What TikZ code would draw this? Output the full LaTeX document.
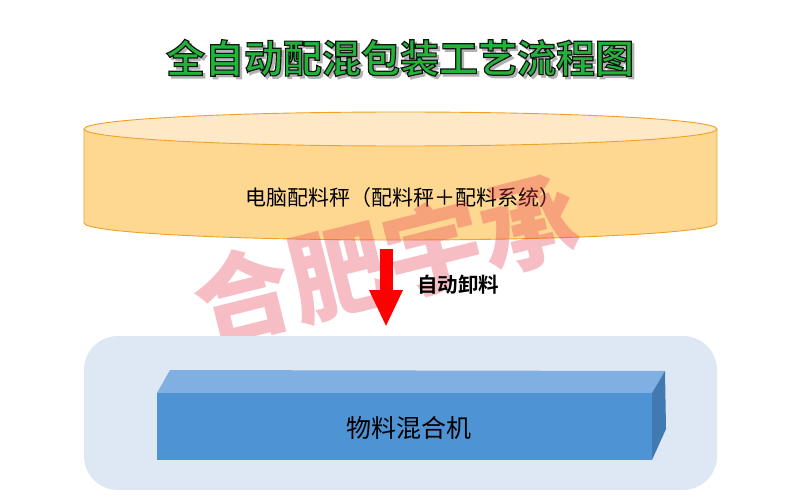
\documentclass[tikz,border=0pt]{standalone}
\usepackage{fontspec}
\newfontfamily\cjk{Noto Sans CJK SC}[BoldFont={Noto Sans CJK SC Bold}]
\newfontfamily\cjkblack{Noto Sans CJK SC Black}
\newfontfamily\cjkoutline{Noto Sans CJK SC Black}[FakeBold=3]
\usetikzlibrary{arrows.meta}
\definecolor{cylside}{RGB}{254,216,145}
\definecolor{cyltop}{RGB}{253,233,198}
\definecolor{cyledge}{RGB}{240,160,40}
\definecolor{panel}{RGB}{222,232,245}
\definecolor{boxfront}{RGB}{78,147,211}
\definecolor{boxtop}{RGB}{128,176,226}
\definecolor{boxright}{RGB}{65,122,176}
\definecolor{titlegreen}{RGB}{34,180,58}
\definecolor{wmark}{RGB}{232,56,79}
\newcommand\greenoutlined[1]{\special{pdf:bcolor [0.133 0.706 0.227] [0.08 0.08 0.08]}#1\special{pdf:ecolor}}
\begin{document}
\begin{tikzpicture}[x=1pt,y=-1pt,
  titletext/.style={font=\cjkoutline\bfseries\fontsize{39}{44}\selectfont, inner sep=0pt},
  lbl/.style={font=\cjk\fontsize{21}{24}\selectfont, inner sep=0pt, text=black},
  boldlbl/.style={font=\cjk\bfseries\fontsize{20.5}{24}\selectfont, inner sep=0pt, text=black},
  biglbl/.style={font=\cjk\fontsize{25}{28}\selectfont, inner sep=0pt, text=black},
  watermark/.style={font=\cjkblack\fontsize{98}{100}\selectfont, inner sep=0pt, text=wmark, opacity=0.33, rotate=14}]
\useasboundingbox (0,0) rectangle (800,500);
\fill[white] (0,0) rectangle (800,500);

% title: shadow and green text with dark outline
\node[titletext, text=black!30] (tshadow) at (402.5,60.5) {全自动配混包装工艺流程图};
\node[titletext, text=titlegreen] (title) at (400,58) {\greenoutlined{全自动配混包装工艺流程图}};

% cylinder (electronic batching scale)
\fill[cylside] (84,129) rectangle (717,223);
\fill[cylside] (400.5,223) ellipse [x radius=316.5pt, y radius=17pt];
\draw[cyledge, line width=0.9pt] (84,129) -- (84,223)
  arc[start angle=180, end angle=360, x radius=316.5pt, y radius=17pt] -- (717,129);
\filldraw[fill=cyltop, draw=cyledge, line width=0.9pt] (400.5,129) ellipse [x radius=316.5pt, y radius=17pt];
\node[lbl] (scale) at (403,198) {电脑配料秤（配料秤＋配料系统）};

% watermark
\node[watermark] (wm) at (386,260) {合肥宇承};

% panel and mixer box
\fill[panel, rounded corners=34pt] (84,336) rectangle (717,490);
\fill[boxtop] (157,393) -- (170,370) -- (665,371) -- (652,393) -- cycle;
\fill[boxright] (652,393) -- (665,371) -- (666,429) -- (652,460) -- cycle;
\fill[boxfront] (157,393) rectangle (652,460);
\node[biglbl] (mixer) at (409,428) {物料混合机};

% discharge arrow
\coordinate (arrS) at (386,249);
\coordinate (arrE) at (386,327);
\draw[red, line width=13pt, -{Triangle[length=37pt, width=31pt]}] (arrS) -- (arrE);
\node[boldlbl] (unload) at (458,285) {自动卸料};
\end{tikzpicture}
\end{document}
